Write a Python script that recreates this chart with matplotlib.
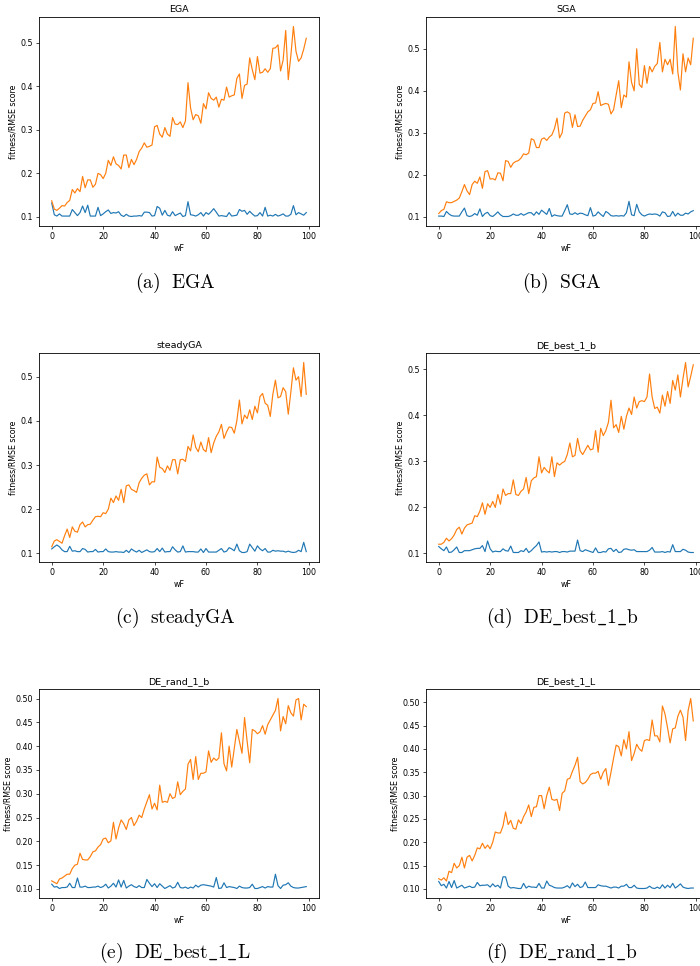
import numpy as np
import matplotlib
matplotlib.use("Agg")
import matplotlib.pyplot as plt

plt.rcParams['mathtext.fontset'] = 'cm'

wF = list(range(100))

ega_blue = [0.132, 0.105, 0.102, 0.107, 0.102, 0.102, 0.102, 0.102, 0.117, 0.110,
            0.103, 0.110, 0.125, 0.110, 0.127, 0.102, 0.102, 0.102, 0.122, 0.103,
            0.107, 0.112, 0.116, 0.108, 0.110, 0.109, 0.112, 0.104, 0.101, 0.106,
            0.102, 0.101, 0.102, 0.102, 0.103, 0.102, 0.111, 0.111, 0.110, 0.102,
            0.103, 0.124, 0.120, 0.104, 0.115, 0.104, 0.102, 0.112, 0.103, 0.106,
            0.109, 0.101, 0.103, 0.135, 0.105, 0.104, 0.102, 0.105, 0.110, 0.102,
            0.110, 0.106, 0.112, 0.119, 0.111, 0.102, 0.103, 0.102, 0.101, 0.110,
            0.102, 0.103, 0.104, 0.117, 0.113, 0.115, 0.106, 0.113, 0.107, 0.102,
            0.103, 0.110, 0.102, 0.122, 0.102, 0.104, 0.102, 0.106, 0.102, 0.104,
            0.107, 0.102, 0.102, 0.106, 0.126, 0.105, 0.110, 0.107, 0.104, 0.110]
ega_orange = [0.137, 0.118, 0.115, 0.120, 0.126, 0.125, 0.133, 0.138, 0.163, 0.155,
              0.165, 0.158, 0.193, 0.167, 0.185, 0.185, 0.168, 0.175, 0.200, 0.197,
              0.188, 0.200, 0.230, 0.218, 0.238, 0.222, 0.218, 0.210, 0.242, 0.242,
              0.213, 0.232, 0.220, 0.232, 0.250, 0.258, 0.270, 0.260, 0.262, 0.265,
              0.307, 0.310, 0.290, 0.283, 0.305, 0.290, 0.285, 0.328, 0.313, 0.312,
              0.318, 0.305, 0.320, 0.408, 0.350, 0.323, 0.335, 0.332, 0.315, 0.360,
              0.348, 0.385, 0.372, 0.368, 0.375, 0.352, 0.370, 0.368, 0.398, 0.375,
              0.378, 0.380, 0.418, 0.428, 0.372, 0.402, 0.405, 0.465, 0.438, 0.415,
              0.468, 0.430, 0.432, 0.440, 0.432, 0.440, 0.487, 0.488, 0.495, 0.435,
              0.460, 0.528, 0.415, 0.470, 0.537, 0.480, 0.457, 0.465, 0.485, 0.510]

sga_blue = [0.102, 0.102, 0.101, 0.113, 0.107, 0.103, 0.102, 0.102, 0.102, 0.112,
            0.121, 0.103, 0.101, 0.103, 0.108, 0.104, 0.119, 0.101, 0.108, 0.111,
            0.103, 0.101, 0.106, 0.112, 0.105, 0.101, 0.101, 0.101, 0.103, 0.107,
            0.104, 0.104, 0.108, 0.104, 0.107, 0.110, 0.110, 0.104, 0.112, 0.106,
            0.116, 0.111, 0.106, 0.120, 0.101, 0.105, 0.103, 0.102, 0.102, 0.115,
            0.129, 0.107, 0.106, 0.110, 0.106, 0.109, 0.108, 0.105, 0.103, 0.122,
            0.102, 0.104, 0.112, 0.106, 0.101, 0.113, 0.109, 0.103, 0.102, 0.103,
            0.102, 0.103, 0.102, 0.110, 0.137, 0.105, 0.103, 0.130, 0.112, 0.105,
            0.102, 0.105, 0.107, 0.106, 0.107, 0.106, 0.102, 0.112, 0.110, 0.101,
            0.102, 0.113, 0.102, 0.109, 0.104, 0.104, 0.109, 0.107, 0.112, 0.115]
sga_orange = [0.108, 0.115, 0.118, 0.136, 0.134, 0.134, 0.137, 0.140, 0.145, 0.160,
              0.177, 0.162, 0.153, 0.177, 0.185, 0.180, 0.195, 0.168, 0.208, 0.210,
              0.190, 0.191, 0.188, 0.205, 0.204, 0.186, 0.234, 0.232, 0.218, 0.228,
              0.232, 0.234, 0.240, 0.250, 0.248, 0.252, 0.286, 0.283, 0.265, 0.265,
              0.285, 0.288, 0.282, 0.290, 0.295, 0.310, 0.335, 0.288, 0.300, 0.347,
              0.350, 0.346, 0.313, 0.343, 0.315, 0.316, 0.330, 0.340, 0.350, 0.355,
              0.370, 0.371, 0.398, 0.365, 0.368, 0.370, 0.368, 0.345, 0.355, 0.390,
              0.424, 0.360, 0.390, 0.385, 0.469, 0.420, 0.400, 0.500, 0.415, 0.408,
              0.460, 0.418, 0.458, 0.445, 0.458, 0.465, 0.515, 0.445, 0.475, 0.462,
              0.475, 0.440, 0.553, 0.445, 0.402, 0.488, 0.445, 0.478, 0.462, 0.525]

steady_blue = [0.110, 0.115, 0.119, 0.115, 0.108, 0.104, 0.104, 0.116, 0.105, 0.106,
               0.104, 0.104, 0.111, 0.109, 0.103, 0.104, 0.104, 0.109, 0.103, 0.104,
               0.104, 0.110, 0.104, 0.103, 0.103, 0.104, 0.103, 0.103, 0.102, 0.107,
               0.102, 0.110, 0.106, 0.103, 0.107, 0.102, 0.105, 0.108, 0.104, 0.103,
               0.104, 0.111, 0.104, 0.112, 0.103, 0.104, 0.104, 0.115, 0.108, 0.103,
               0.104, 0.117, 0.103, 0.104, 0.104, 0.104, 0.103, 0.103, 0.110, 0.102,
               0.111, 0.103, 0.103, 0.103, 0.103, 0.107, 0.111, 0.103, 0.105, 0.113,
               0.110, 0.106, 0.121, 0.106, 0.102, 0.102, 0.104, 0.121, 0.113, 0.105,
               0.117, 0.110, 0.106, 0.111, 0.103, 0.103, 0.107, 0.105, 0.106, 0.105,
               0.105, 0.103, 0.105, 0.103, 0.102, 0.103, 0.107, 0.104, 0.125, 0.104]
steady_orange = [0.115, 0.128, 0.131, 0.127, 0.123, 0.140, 0.155, 0.136, 0.160, 0.150,
                 0.148, 0.165, 0.171, 0.160, 0.165, 0.166, 0.175, 0.183, 0.184, 0.183,
                 0.192, 0.190, 0.200, 0.225, 0.215, 0.230, 0.220, 0.245, 0.215, 0.253,
                 0.255, 0.245, 0.242, 0.238, 0.260, 0.270, 0.277, 0.280, 0.255, 0.262,
                 0.262, 0.318, 0.295, 0.292, 0.283, 0.298, 0.288, 0.312, 0.312, 0.280,
                 0.312, 0.313, 0.308, 0.342, 0.332, 0.368, 0.340, 0.330, 0.352, 0.335,
                 0.330, 0.362, 0.328, 0.350, 0.365, 0.375, 0.392, 0.360, 0.375, 0.386,
                 0.385, 0.372, 0.400, 0.447, 0.393, 0.413, 0.405, 0.425, 0.403, 0.433,
                 0.418, 0.455, 0.462, 0.440, 0.435, 0.410, 0.460, 0.492, 0.452, 0.455,
                 0.475, 0.466, 0.415, 0.465, 0.520, 0.492, 0.500, 0.455, 0.532, 0.460]

deb1b_blue = [0.115, 0.110, 0.106, 0.114, 0.102, 0.103, 0.108, 0.114, 0.102, 0.102,
              0.106, 0.106, 0.106, 0.108, 0.110, 0.111, 0.111, 0.117, 0.104, 0.127,
              0.110, 0.103, 0.105, 0.104, 0.104, 0.110, 0.106, 0.105, 0.116, 0.102,
              0.102, 0.102, 0.106, 0.104, 0.111, 0.102, 0.106, 0.112, 0.117, 0.125,
              0.103, 0.104, 0.103, 0.104, 0.103, 0.104, 0.104, 0.102, 0.104, 0.104,
              0.103, 0.105, 0.105, 0.105, 0.129, 0.106, 0.104, 0.108, 0.106, 0.104,
              0.102, 0.112, 0.102, 0.102, 0.104, 0.103, 0.110, 0.111, 0.104, 0.109,
              0.102, 0.103, 0.109, 0.110, 0.108, 0.107, 0.108, 0.104, 0.104, 0.104,
              0.104, 0.104, 0.107, 0.113, 0.103, 0.103, 0.103, 0.104, 0.102, 0.104,
              0.103, 0.119, 0.104, 0.104, 0.104, 0.109, 0.107, 0.103, 0.102, 0.102]
deb1b_orange = [0.120, 0.120, 0.124, 0.133, 0.127, 0.132, 0.140, 0.152, 0.157, 0.142,
                0.155, 0.162, 0.164, 0.166, 0.182, 0.180, 0.192, 0.210, 0.185, 0.208,
                0.200, 0.213, 0.200, 0.228, 0.207, 0.240, 0.226, 0.230, 0.230, 0.260,
                0.228, 0.226, 0.235, 0.240, 0.265, 0.230, 0.258, 0.264, 0.267, 0.310,
                0.275, 0.287, 0.280, 0.275, 0.310, 0.267, 0.297, 0.292, 0.297, 0.300,
                0.315, 0.340, 0.310, 0.313, 0.350, 0.323, 0.315, 0.325, 0.335, 0.325,
                0.327, 0.367, 0.320, 0.372, 0.356, 0.367, 0.385, 0.433, 0.373, 0.380,
                0.363, 0.398, 0.370, 0.398, 0.416, 0.402, 0.440, 0.416, 0.430, 0.432,
                0.430, 0.440, 0.490, 0.440, 0.415, 0.418, 0.405, 0.444, 0.420, 0.452,
                0.426, 0.476, 0.455, 0.488, 0.440, 0.480, 0.515, 0.462, 0.485, 0.510]

der1b_blue = [0.110, 0.104, 0.105, 0.101, 0.103, 0.103, 0.104, 0.112, 0.103, 0.103,
              0.123, 0.104, 0.104, 0.106, 0.103, 0.103, 0.104, 0.104, 0.106, 0.103,
              0.105, 0.110, 0.102, 0.106, 0.112, 0.104, 0.119, 0.104, 0.118, 0.102,
              0.106, 0.109, 0.105, 0.103, 0.107, 0.103, 0.103, 0.120, 0.112, 0.105,
              0.111, 0.103, 0.111, 0.106, 0.101, 0.104, 0.107, 0.102, 0.104, 0.114,
              0.103, 0.102, 0.104, 0.101, 0.104, 0.102, 0.108, 0.104, 0.108, 0.109,
              0.108, 0.107, 0.106, 0.104, 0.124, 0.101, 0.102, 0.113, 0.103, 0.105,
              0.104, 0.103, 0.101, 0.106, 0.103, 0.102, 0.102, 0.103, 0.110, 0.101,
              0.101, 0.103, 0.105, 0.102, 0.105, 0.104, 0.104, 0.131, 0.107, 0.101,
              0.108, 0.109, 0.113, 0.106, 0.103, 0.102, 0.102, 0.103, 0.104, 0.105]
der1b_orange = [0.117, 0.114, 0.111, 0.121, 0.123, 0.127, 0.131, 0.131, 0.143, 0.150,
                0.152, 0.175, 0.162, 0.161, 0.161, 0.168, 0.178, 0.180, 0.188, 0.193,
                0.205, 0.207, 0.197, 0.201, 0.240, 0.205, 0.228, 0.245, 0.237, 0.225,
                0.245, 0.250, 0.233, 0.242, 0.255, 0.250, 0.268, 0.283, 0.298, 0.268,
                0.280, 0.266, 0.318, 0.282, 0.284, 0.282, 0.300, 0.290, 0.293, 0.325,
                0.298, 0.305, 0.310, 0.362, 0.372, 0.330, 0.378, 0.330, 0.343, 0.343,
                0.346, 0.390, 0.366, 0.375, 0.370, 0.375, 0.428, 0.363, 0.348, 0.400,
                0.356, 0.395, 0.435, 0.410, 0.385, 0.460, 0.410, 0.365, 0.435, 0.432,
                0.426, 0.430, 0.443, 0.425, 0.445, 0.455, 0.465, 0.475, 0.500, 0.432,
                0.462, 0.447, 0.485, 0.470, 0.463, 0.497, 0.500, 0.455, 0.488, 0.483]

deb1l_blue = [0.116, 0.107, 0.110, 0.102, 0.116, 0.103, 0.118, 0.102, 0.105, 0.108,
              0.102, 0.104, 0.106, 0.103, 0.104, 0.114, 0.107, 0.108, 0.108, 0.109,
              0.104, 0.111, 0.105, 0.108, 0.102, 0.126, 0.126, 0.106, 0.102, 0.103,
              0.102, 0.101, 0.101, 0.112, 0.102, 0.106, 0.104, 0.104, 0.103, 0.112,
              0.102, 0.102, 0.117, 0.108, 0.106, 0.103, 0.102, 0.102, 0.102, 0.104,
              0.107, 0.102, 0.113, 0.105, 0.110, 0.103, 0.105, 0.115, 0.103, 0.103,
              0.103, 0.103, 0.109, 0.107, 0.106, 0.106, 0.104, 0.102, 0.104, 0.104,
              0.102, 0.106, 0.106, 0.110, 0.103, 0.103, 0.108, 0.102, 0.101, 0.101,
              0.101, 0.102, 0.106, 0.102, 0.101, 0.104, 0.101, 0.109, 0.102, 0.108,
              0.103, 0.112, 0.102, 0.106, 0.111, 0.104, 0.102, 0.101, 0.102, 0.102]
deb1l_orange = [0.122, 0.119, 0.124, 0.117, 0.138, 0.135, 0.155, 0.145, 0.150, 0.168,
                0.145, 0.168, 0.172, 0.160, 0.172, 0.188, 0.186, 0.198, 0.187, 0.194,
                0.186, 0.200, 0.222, 0.220, 0.220, 0.235, 0.265, 0.238, 0.247, 0.230,
                0.228, 0.248, 0.240, 0.255, 0.265, 0.280, 0.255, 0.275, 0.276, 0.300,
                0.300, 0.272, 0.300, 0.318, 0.292, 0.290, 0.292, 0.268, 0.305, 0.310,
                0.335, 0.337, 0.352, 0.365, 0.382, 0.330, 0.325, 0.328, 0.335, 0.345,
                0.348, 0.348, 0.352, 0.335, 0.350, 0.358, 0.322, 0.350, 0.380, 0.408,
                0.405, 0.385, 0.420, 0.400, 0.437, 0.375, 0.390, 0.410, 0.400, 0.395,
                0.418, 0.420, 0.418, 0.462, 0.428, 0.428, 0.415, 0.492, 0.475, 0.445,
                0.413, 0.443, 0.445, 0.470, 0.483, 0.468, 0.418, 0.482, 0.508, 0.460]

titles = ["EGA", "SGA", "steadyGA", "DE_best_1_b", "DE_rand_1_b", "DE_best_1_L"]
captions = [r"$\mathrm{(a)\ \ EGA}$", r"$\mathrm{(b)\ \ SGA}$",
            r"$\mathrm{(c)\ \ steadyGA}$", r"$\mathrm{(d)\ \ DE\_best\_1\_b}$",
            r"$\mathrm{(e)\ \ DE\_best\_1\_L}$", r"$\mathrm{(f)\ \ DE\_rand\_1\_b}$"]
blues = [ega_blue, sga_blue, steady_blue, deb1b_blue, der1b_blue, deb1l_blue]
oranges = [ega_orange, sga_orange, steady_orange, deb1b_orange, der1b_orange, deb1l_orange]

W, H = 700, 966
fig = plt.figure(figsize=(W / 100, H / 100), dpi=100)

lefts = [39, 426]
tops = [17, 353, 689]
aw, ah = 280, 209
cap_y = [283, 618, 953]
cap_x = [175, 562]

fs = 5.65
for i in range(6):
    r, c = divmod(i, 2)
    ax = fig.add_axes([lefts[c] / W, 1 - (tops[r] + ah) / H, aw / W, ah / H])
    ax.plot(wF, blues[i], color='#1f77b4', lw=0.85)
    ax.plot(wF, oranges[i], color='#ff7f0e', lw=0.85)
    ax.set_title(titles[i], fontsize=6.8, pad=3.4)
    ax.set_xlabel("wF", fontsize=fs, labelpad=2.2)
    ax.set_ylabel("fitness/RMSE score", fontsize=fs, labelpad=2.2)
    ax.tick_params(labelsize=fs, length=2, width=0.5, pad=2)
    for s in ax.spines.values():
        s.set_linewidth(0.6)
    fig.text(cap_x[c] / W, 1 - cap_y[r] / H, captions[i], fontsize=14,
             ha='center', va='center')

fig.savefig("out.png", dpi=100)
